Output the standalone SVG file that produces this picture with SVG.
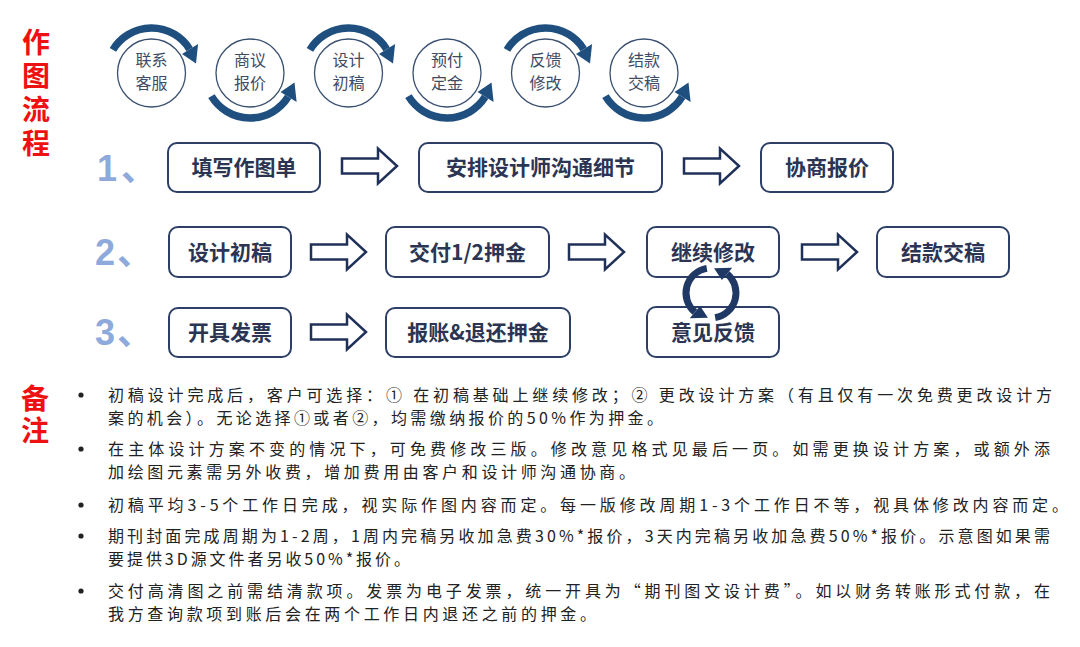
<svg xmlns="http://www.w3.org/2000/svg" xmlns:xlink="http://www.w3.org/1999/xlink" width="1080" height="647" viewBox="0 0 1080 647">
<style>
.title{font-family:"Noto Sans CJK SC",sans-serif;font-weight:bold;font-size:28px;fill:#ee1111;writing-mode:vertical-rl}
.ctext{font-family:"Noto Sans CJK SC",sans-serif;font-size:16px;fill:#3d4b66;text-anchor:middle}
.circ{fill:#ffffff;stroke:#3a5070;stroke-width:1.3}
.box{fill:#ffffff;stroke:#2d3f66;stroke-width:2}
.btext{font-family:"Noto Sans CJK SC",sans-serif;font-weight:bold;font-size:21px;fill:#2b3553;text-anchor:middle}
.num{font-family:"Liberation Sans","Noto Sans CJK SC",sans-serif;font-weight:bold;font-size:36px;fill:#8eaadc}
.barrow{fill:#ffffff;stroke:#1f3059;stroke-width:2.5;stroke-linejoin:miter}
.note{font-family:"Noto Sans CJK SC",sans-serif;font-size:16px;fill:#222222}
.arcbody{fill:none;stroke:#1f4f7f;stroke-width:7.5}
.archead{fill:#1f4f7f}
.cyc{fill:none;stroke:#1f3864;stroke-width:7}
.cychead{fill:#1f3864}
</style>
<defs>
<g id="arcTop">
<path class="arcbody" d="M -38.57 -23.18 A 45 45 0 0 1 38.16 -23.85"/>
<polygon class="archead" points="30.5,-19.1 46.6,-29.1 44.5,-9.5"/>
</g>
<g id="cycPiece">
<path class="cyc" d="M -4.17 -24.64 A 25 25 0 0 0 -16.07 19.15"/>
<polygon class="cychead" points="-10.9,13.0 -21.2,25.3 -3.05,24.8"/>
</g>
<path id="blk" class="barrow" d="M 0 -7.5 L 36 -7.5 L 36 -17.5 L 55 0 L 36 17.5 L 36 7.5 L 0 7.5 Z"/>
</defs>

<g id="title-flow">
<text class="title" x="36" y="28" letter-spacing="5.7">作图流程</text>
</g>

<g id="steps-circles">
<g id="c1">
<circle class="circ" cx="151.5" cy="73" r="34"/>
<use xlink:href="#arcTop" href="#arcTop" transform="translate(151.5,73)"/>
<text class="ctext"><tspan x="151.5" y="65.5">联系</tspan><tspan x="151.5" y="89">客服</tspan></text>
</g>
<g id="c2">
<circle class="circ" cx="250" cy="73" r="34"/>
<use xlink:href="#arcTop" href="#arcTop" transform="translate(250,73) scale(1,-1)"/>
<text class="ctext"><tspan x="250" y="65.5">商议</tspan><tspan x="250" y="89">报价</tspan></text>
</g>
<g id="c3">
<circle class="circ" cx="348.5" cy="73" r="34"/>
<use xlink:href="#arcTop" href="#arcTop" transform="translate(348.5,73)"/>
<text class="ctext"><tspan x="348.5" y="65.5">设计</tspan><tspan x="348.5" y="89">初稿</tspan></text>
</g>
<g id="c4">
<circle class="circ" cx="447" cy="73" r="34"/>
<use xlink:href="#arcTop" href="#arcTop" transform="translate(447,73) scale(1,-1)"/>
<text class="ctext"><tspan x="447" y="65.5">预付</tspan><tspan x="447" y="89">定金</tspan></text>
</g>
<g id="c5">
<circle class="circ" cx="545.5" cy="73" r="34"/>
<use xlink:href="#arcTop" href="#arcTop" transform="translate(545.5,73)"/>
<text class="ctext"><tspan x="545.5" y="65.5">反馈</tspan><tspan x="545.5" y="89">修改</tspan></text>
</g>
<g id="c6">
<circle class="circ" cx="644" cy="73" r="34"/>
<use xlink:href="#arcTop" href="#arcTop" transform="translate(644,73) scale(1,-1)"/>
<text class="ctext"><tspan x="644" y="65.5">结款</tspan><tspan x="644" y="89">交稿</tspan></text>
</g>
</g>

<g id="numbers">
<text class="num" x="97" y="181">1<tspan dx="4">、</tspan></text>
<text class="num" x="95" y="265">2<tspan dx="2">、</tspan></text>
<text class="num" x="95" y="345">3<tspan dx="2">、</tspan></text>
</g>

<g id="n-fill">
<rect class="box" x="168" y="143" width="152" height="49" rx="9"/>
<text class="btext" x="244" y="175">填写作图单</text>
</g>
<g id="n-arrange">
<rect class="box" x="419" y="143" width="243" height="49" rx="9"/>
<text class="btext" x="540.5" y="175">安排设计师沟通细节</text>
</g>
<g id="n-quote">
<rect class="box" x="761" y="143" width="132" height="49" rx="9"/>
<text class="btext" x="827" y="175">协商报价</text>
</g>
<g id="n-draft">
<rect class="box" x="169" y="227" width="122" height="50" rx="9"/>
<text class="btext" x="230" y="259.5">设计初稿</text>
</g>
<g id="n-deposit">
<rect class="box" x="386" y="227" width="163" height="50" rx="9"/>
<text class="btext" x="467.5" y="259.5">交付1/2押金</text>
</g>
<g id="n-revise">
<rect class="box" x="647" y="227" width="132" height="50" rx="9"/>
<text class="btext" x="713" y="259.5">继续修改</text>
</g>
<g id="n-final">
<rect class="box" x="877" y="227" width="132" height="50" rx="9"/>
<text class="btext" x="943" y="259.5">结款交稿</text>
</g>
<g id="n-invoice">
<rect class="box" x="169" y="308" width="122" height="49" rx="9"/>
<text class="btext" x="230" y="340">开具发票</text>
</g>
<g id="n-refund">
<rect class="box" x="386" y="308" width="184" height="49" rx="9"/>
<text class="btext" x="478" y="340">报账&amp;退还押金</text>
</g>
<g id="n-feedback">
<rect class="box" x="647" y="307" width="132" height="50" rx="9"/>
<text class="btext" x="713" y="340">意见反馈</text>
</g>

<g id="connectors">
<use xlink:href="#blk" href="#blk" transform="translate(342,166)"/>
<use xlink:href="#blk" href="#blk" transform="translate(684,166)"/>
<use xlink:href="#blk" href="#blk" transform="translate(311,252)"/>
<use xlink:href="#blk" href="#blk" transform="translate(569,252)"/>
<use xlink:href="#blk" href="#blk" transform="translate(802,252)"/>
<use xlink:href="#blk" href="#blk" transform="translate(311,332)"/>
<use xlink:href="#cycPiece" href="#cycPiece" transform="translate(711,293)"/>
<use xlink:href="#cycPiece" href="#cycPiece" transform="translate(711,293) rotate(180)"/>
</g>

<g id="title-notes">
<text class="title" x="35" y="384" letter-spacing="4">备注</text>
</g>

<g id="notes">
<circle cx="81" cy="395" r="2.6" fill="#222"/>
<circle cx="81" cy="449" r="2.6" fill="#222"/>
<circle cx="81" cy="505" r="2.6" fill="#222"/>
<circle cx="81" cy="536" r="2.6" fill="#222"/>
<circle cx="81" cy="591" r="2.6" fill="#222"/>
<text class="note"><tspan x="108" y="401" textLength="944" lengthAdjust="spacing">初稿设计完成后，客户可选择：① 在初稿基础上继续修改；② 更改设计方案（有且仅有一次免费更改设计方</tspan><tspan x="108" y="424.4" textLength="555" lengthAdjust="spacing">案的机会）。无论选择①或者②，均需缴纳报价的50%作为押金。</tspan></text>
<text class="note"><tspan x="108" y="455" textLength="942" lengthAdjust="spacing">在主体设计方案不变的情况下，可免费修改三版。修改意见格式见最后一页。如需更换设计方案，或额外添</tspan><tspan x="108" y="478.4" textLength="527" lengthAdjust="spacing">加绘图元素需另外收费，增加费用由客户和设计师沟通协商。</tspan></text>
<text class="note" x="108" y="511" textLength="960" lengthAdjust="spacing">初稿平均3-5个工作日完成，视实际作图内容而定。每一版修改周期1-3个工作日不等，视具体修改内容而定。</text>
<text class="note"><tspan x="108" y="542" textLength="942" lengthAdjust="spacing">期刊封面完成周期为1-2周，1周内完稿另收加急费30%*报价，3天内完稿另收加急费50%*报价。示意图如果需</tspan><tspan x="108" y="565.4" textLength="302" lengthAdjust="spacing">要提供3D源文件者另收50%*报价。</tspan></text>
<text class="note"><tspan x="108" y="597" textLength="942" lengthAdjust="spacing">交付高清图之前需结清款项。发票为电子发票，统一开具为“期刊图文设计费”。如以财务转账形式付款，在</tspan><tspan x="108" y="620.4" textLength="488" lengthAdjust="spacing">我方查询款项到账后会在两个工作日内退还之前的押金。</tspan></text>
</g>
</svg>
